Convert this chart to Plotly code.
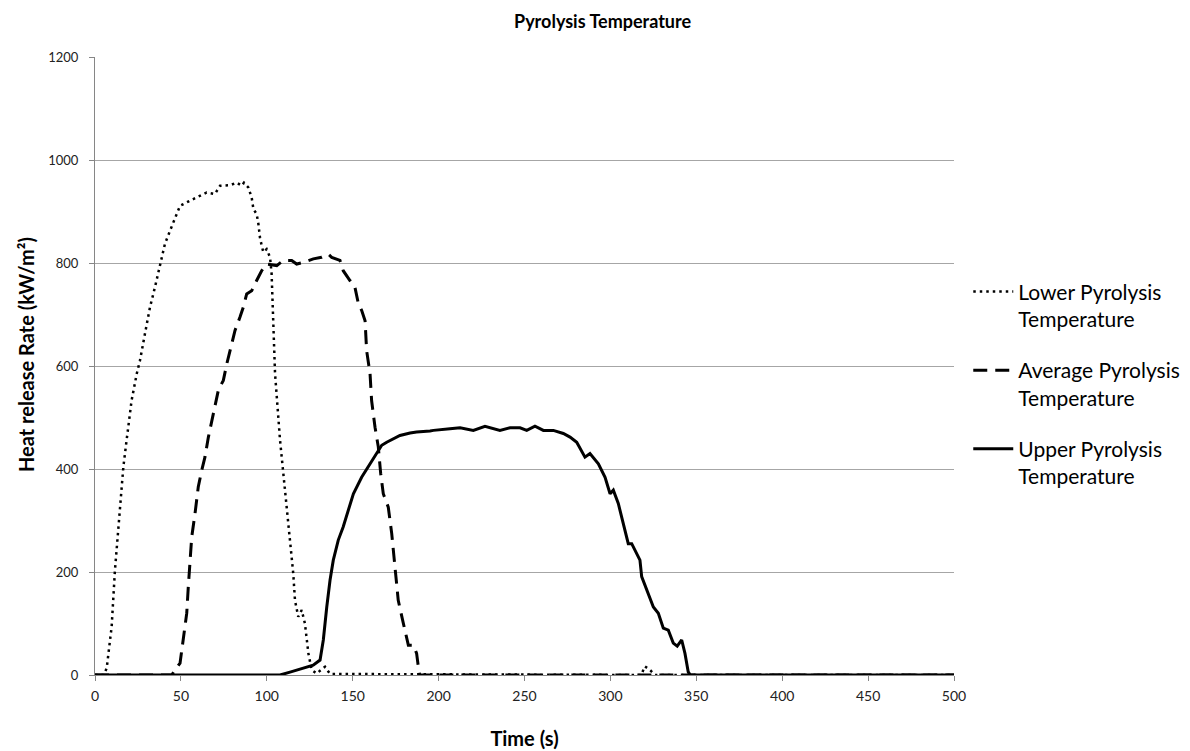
import plotly.graph_objects as go

# Lower pyrolysis temperature (dotted)
lower_t = [0, 5, 6.8, 9.7, 11.6, 13.6, 15.5, 16.5, 18.4, 21.3, 24.3, 26.2, 29.1, 32, 34.9, 37.8,
           40.7, 43.7, 46.6, 49.5, 55.3, 61.1, 65, 69.8, 72.8, 78.6, 82.5, 85.4, 86.7, 89.2,
           91.2, 92.2, 94.1, 95.1, 96, 97, 98, 99.9, 101.9, 102.8, 104.8, 107.7, 110.6, 113.5,
           115.4, 116.4, 118.3, 120.3, 122.2, 124.2, 126.1, 129, 133.9, 136.8, 318, 320, 323,
           326, 500]
lower_v = [0, 0, 13, 94, 203, 288, 378, 404, 456, 533, 585, 611, 663, 714, 753, 792,
           837, 863, 888, 911, 921, 931, 937, 934, 950, 951, 956, 950, 956, 947,
           927, 905, 895, 876, 850, 834, 821, 827, 811, 779, 585, 456, 359, 262,
           197, 145, 113, 126, 100, 42, 10, 3, 16, 2, 0, 17, 10,
           0, 0]

# Average pyrolysis temperature (dashed)
avg_t = [0, 44.6, 49.5, 51.4, 53.4, 54.3, 55.3, 56.3, 58.2, 60.1, 62.1, 64, 66, 68.9, 71.8,
         74.7, 76.7, 79.6, 81.5, 84.4, 86.3, 88.3, 91.2, 94.1, 97, 99.9, 105.8, 109.6, 114.5,
         117.4, 121.2, 127.1, 131.9, 135.8, 137.8, 142.6, 144.5, 148.4, 151.3, 153.3, 155.2,
         157.2, 158.1, 160.1, 161, 163, 164.9, 166.3, 167.8, 170.7, 172.7, 174.6, 176.5,
         179.5, 182.4, 185.3, 187.2, 188.2, 189, 500]
avg_v = [0, 0, 23, 68, 120, 171, 223, 268, 313, 365, 397, 423, 462, 507, 553,
         572, 604, 643, 669, 695, 714, 740, 746, 766, 785, 798, 795, 805, 805,
         798, 801, 808, 811, 817, 811, 805, 785, 766, 753, 721, 708,
         688, 630, 585, 533, 481, 443, 391, 352, 326, 275, 210, 145,
         100, 58, 58, 42, 16, 0, 0]

# Upper pyrolysis temperature (solid)
upper_t = [0, 107.7, 114, 121.2, 127, 131, 132.9, 134.9, 136.8, 138.7, 141.6, 144.5, 147.4,
           150.4, 155.2, 160.1, 164.9, 166.9, 169.8, 175.6, 177.5, 183.4, 187.2, 195, 197,
           206.6, 212.5, 220.2, 227, 235.7, 241.6, 247.4, 251.3, 256.1, 261, 266.8, 272.6,
           276.5, 280.4, 285.2, 288.1, 293, 296.9, 299.8, 301.7, 304.6, 307.5, 310.4, 312.4,
           315.3, 317.2, 318.2, 321.1, 325, 327.9, 330.8, 333.7, 336.6, 338.9, 341.5, 343.4,
           345.3, 346.5, 500]
upper_v = [0, 0, 6, 13, 19, 29, 68, 132, 184, 223, 262, 288, 320,
           352, 384, 410, 436, 446, 452, 462, 465, 470, 472, 474, 475,
           478, 480, 475, 483, 475, 480, 480, 475, 483, 475, 475, 469,
           462, 452, 423, 430, 410, 384, 352, 359, 333, 294, 255, 255,
           236, 223, 191, 165, 132, 120, 91, 87, 62, 56, 68, 42,
           6, 0, 0]

font_family = "Lato, 'Open Sans', sans-serif"

fig = go.Figure()
fig.add_trace(go.Scatter(
    x=lower_t, y=lower_v, mode="lines",
    name="Lower Pyrolysis<br>Temperature", legendgroup="lower",
    line=dict(color="black", width=2.5, dash="2.5px,4px"),
))
fig.add_trace(go.Scatter(
    x=avg_t, y=avg_v, mode="lines",
    name="Average Pyrolysis<br>Temperature", legendgroup="avg",
    line=dict(color="black", width=3, dash="14px,8px"),
))
fig.add_trace(go.Scatter(
    x=upper_t, y=upper_v, mode="lines",
    name="Upper Pyrolysis<br>Temperature", legendgroup="upper",
    line=dict(color="black", width=3),
))

# the page body adds an 8px offset, so the figure is a bit smaller than the window
fig.update_layout(
    width=1182,
    height=743,
    paper_bgcolor="white",
    plot_bgcolor="white",
    margin=dict(l=87, r=236, t=49, b=76, autoexpand=False),
    font=dict(family=font_family, color="black"),
    title=dict(
        text="<b>Pyrolysis Temperature</b>",
        x=0.503, xanchor="center", xref="container",
        y=0.982, yanchor="middle",
        font=dict(size=18, family=font_family, color="black"),
    ),
    legend=dict(
        x=1.0166, xanchor="left", y=0.471, yanchor="middle",
        font=dict(size=21, family=font_family, color="black"),
        valign="top",
        itemwidth=40,
        tracegroupgap=21,
        bgcolor="rgba(0,0,0,0)",
    ),
    showlegend=True,
)

# y-axis title as an annotation so it can sit exactly where the reference has it
fig.add_annotation(
    text="<b>Heat release Rate (kW/m²)</b>",
    xref="paper", yref="paper", x=0, y=0.5,
    xanchor="center", yanchor="middle",
    xshift=-69, yshift=11,
    textangle=-90, showarrow=False,
    font=dict(size=20, family=font_family, color="black"),
)

fig.update_xaxes(
    range=[0, 500],
    dtick=50,
    showgrid=False,
    showline=True,
    linecolor="#868686",
    linewidth=1,
    ticks="outside",
    ticklen=5,
    tickcolor="#868686",
    tickfont=dict(size=14, color="#222"),
    ticklabelstandoff=3,
    zeroline=False,
    automargin=False,
    title=dict(text="<b>Time (s)</b>", font=dict(size=20, color="black"), standoff=29),
)
fig.update_yaxes(
    range=[0, 1200],
    dtick=200,
    showgrid=True,
    gridcolor="#a6a6a6",
    gridwidth=1,
    showline=True,
    linecolor="#868686",
    linewidth=1,
    ticks="outside",
    ticklen=5,
    tickcolor="#868686",
    tickfont=dict(size=13, color="#222"),
    ticklabelstandoff=8,
    zeroline=False,
    automargin=False,
)

fig.write_html("out.html")
